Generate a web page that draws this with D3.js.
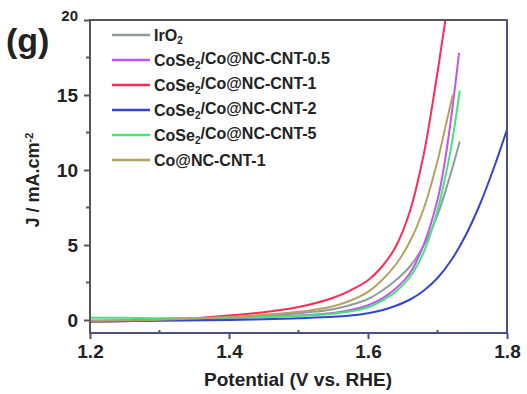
<!DOCTYPE html>
<html>
<head>
<meta charset="utf-8">
<script src="https://cdn.jsdelivr.net/npm/d3@7"></script>
<style>
  html, body { margin: 0; padding: 0; background: #fff; }
  svg { display: block; }
  text { font-family: "Liberation Sans", Arial, sans-serif; font-weight: bold; fill: #222; }
</style>
</head>
<body>
<svg id="chart" width="527" height="394"></svg>
<script>
// LSV polarization curves: [potential (V vs. RHE), current density (mA/cm2)]
const seriesNames = [
  "IrO2",
  "CoSe2/Co@NC-CNT-0.5",
  "CoSe2/Co@NC-CNT-1",
  "CoSe2/Co@NC-CNT-2",
  "CoSe2/Co@NC-CNT-5",
  "Co@NC-CNT-1"
];
const seriesColors = ["#8e9c9c", "#c054ee", "#ff2a55", "#3444d2", "#44e476", "#b4a264"];

const irO2 = [[1.20,-0.05],[1.30,0.00],[1.40,0.15],[1.45,0.30],[1.50,0.45],[1.525,0.56],[1.55,0.72],[1.575,1.00],[1.60,1.40],[1.62,1.95],[1.64,2.65],[1.66,3.55],[1.68,4.95],[1.70,7.00],[1.718,9.60],[1.732,11.90]];
const cnt05 = [[1.20,-0.05],[1.30,0.00],[1.40,0.10],[1.45,0.20],[1.50,0.30],[1.525,0.37],[1.55,0.47],[1.575,0.66],[1.60,0.98],[1.62,1.42],[1.64,2.10],[1.66,3.10],[1.68,5.00],[1.70,8.00],[1.71,10.40],[1.72,13.60],[1.731,17.80]];
const cnt1  = [[1.20,-0.10],[1.25,-0.08],[1.30,0.00],[1.35,0.12],[1.40,0.30],[1.45,0.52],[1.50,0.87],[1.525,1.13],[1.55,1.48],[1.575,1.98],[1.60,2.65],[1.62,3.55],[1.64,4.90],[1.66,7.20],[1.68,11.00],[1.69,13.60],[1.70,16.50],[1.712,20.20],[1.716,21.40]];
const cnt2  = [[1.20,-0.10],[1.30,-0.05],[1.40,0.00],[1.45,0.05],[1.50,0.12],[1.55,0.21],[1.575,0.30],[1.60,0.45],[1.62,0.65],[1.64,0.95],[1.66,1.35],[1.68,1.95],[1.70,2.80],[1.72,4.00],[1.74,5.60],[1.76,7.60],[1.78,10.00],[1.80,12.70]];
const cnt5  = [[1.20,0.15],[1.25,0.15],[1.30,0.12],[1.40,0.15],[1.45,0.20],[1.50,0.28],[1.525,0.33],[1.55,0.42],[1.575,0.58],[1.60,0.85],[1.62,1.28],[1.64,1.88],[1.66,2.85],[1.68,4.50],[1.70,7.30],[1.71,9.30],[1.72,11.60],[1.732,15.30]];
const coCnt1 = [[1.20,-0.05],[1.30,0.02],[1.40,0.20],[1.45,0.35],[1.50,0.55],[1.525,0.70],[1.55,0.92],[1.575,1.30],[1.60,1.88],[1.62,2.65],[1.64,3.70],[1.66,5.20],[1.68,7.40],[1.70,10.60],[1.712,13.00],[1.722,15.00]];
const seriesData = [irO2, cnt05, cnt1, cnt2, cnt5, coCnt1];

const xTicks = [1.2, 1.4, 1.6, 1.8];
const xMinorTicks = [1.3, 1.5, 1.7];
const yTicks = [0, 5, 10, 15, 20];
const yMinorTicks = [2.5, 7.5, 12.5, 17.5];

const svg = d3.select("#chart");
const plot = { left: 90, right: 507, top: 20, bottom: 333 };

const x = d3.scaleLinear().domain([1.2, 1.8]).range([plot.left, plot.right]);
const y = d3.scaleLinear().domain([0, 20]).range([320, 20]);

// clip region for the curves
svg.append("defs").append("clipPath").attr("id", "plotClip")
  .append("rect")
  .attr("x", plot.left).attr("y", plot.top)
  .attr("width", plot.right - plot.left).attr("height", plot.bottom - plot.top);

// curves
const line = d3.line()
  .x(d => x(d[0]))
  .y(d => y(d[1]))
  .curve(d3.curveCatmullRom.alpha(0.5));

const curves = svg.append("g").attr("clip-path", "url(#plotClip)");
seriesData.forEach((data, i) => {
  curves.append("path")
    .datum(data)
    .attr("d", line)
    .attr("fill", "none")
    .attr("stroke", seriesColors[i])
    .attr("stroke-width", 2);
});

// frame
const frameTop = "#55565c", frameSide = "#4a4f86";
svg.append("line").attr("x1", plot.left).attr("x2", plot.right + 1).attr("y1", plot.top).attr("y2", plot.top)
  .attr("stroke", frameTop).attr("stroke-width", 2);
svg.append("line").attr("x1", plot.right).attr("x2", plot.right).attr("y1", plot.top).attr("y2", plot.bottom)
  .attr("stroke", frameSide).attr("stroke-width", 2);

// bottom axis
const xAxis = d3.axisBottom(x).tickValues(xTicks).tickFormat(d3.format(".1f")).tickSize(6).tickPadding(6);
const gx = svg.append("g").attr("transform", `translate(0,${plot.bottom})`).call(xAxis);
gx.select(".domain").attr("stroke", frameSide).attr("stroke-width", 2).attr("d", `M${plot.left - 1},0H${plot.right + 1}`);
gx.selectAll(".tick line").attr("stroke", frameSide).attr("stroke-width", 2);
gx.selectAll(".tick text").style("font-size", "19px").style("font-family", "Liberation Sans, Arial, sans-serif").style("font-weight", "bold").attr("fill", "#222");
gx.selectAll(".minor").data(xMinorTicks).enter().append("line")
  .attr("x1", d => x(d)).attr("x2", d => x(d)).attr("y1", 0).attr("y2", -3)
  .attr("stroke", frameSide).attr("stroke-width", 2);

// left axis
const yAxis = d3.axisLeft(y).tickValues(yTicks).tickSize(6).tickPadding(6);
const gy = svg.append("g").attr("transform", `translate(${plot.left},0)`).call(yAxis);
gy.select(".domain").attr("stroke", frameTop).attr("stroke-width", 2).attr("d", `M0,${plot.top - 1}V${plot.bottom + 1}`);
gy.selectAll(".tick line").attr("stroke", frameTop).attr("stroke-width", 2);
gy.selectAll(".tick text").style("font-size", "19px").style("font-family", "Liberation Sans, Arial, sans-serif").style("font-weight", "bold").attr("fill", "#222");
gy.selectAll(".tick").filter(d => d === 20).select("text").style("font-size", "15px").attr("dy", "0.05em");
gy.selectAll(".minor").data(yMinorTicks).enter().append("line")
  .attr("x1", 0).attr("x2", -4).attr("y1", d => y(d)).attr("y2", d => y(d))
  .attr("stroke", frameTop).attr("stroke-width", 2);

// axis titles
svg.append("text")
  .attr("x", 298).attr("y", 386)
  .attr("text-anchor", "middle")
  .style("font-size", "19px")
  .text("Potential (V vs. RHE)");

const yTitle = svg.append("text")
  .attr("transform", "translate(39,180) rotate(-90)")
  .attr("text-anchor", "middle")
  .style("font-size", "18px");
yTitle.append("tspan").text("J / mA.cm");
yTitle.append("tspan").attr("dy", "-0.55em").style("font-size", "11px").text("-2");

// panel label
svg.append("text")
  .attr("x", 6).attr("y", 52)
  .style("font-size", "34px")
  .text("(g)");

// legend
const legend = svg.append("g");
seriesNames.forEach((name, i) => {
  const ly = 35 + i * 25;
  legend.append("line")
    .attr("x1", 112).attr("x2", 150).attr("y1", ly).attr("y2", ly)
    .attr("stroke", seriesColors[i]).attr("stroke-width", 2.5);
  const t = legend.append("text")
    .attr("x", 154).attr("y", ly + 5.5)
    .style("font-size", "16px");
  // chemical subscript for the "2" in IrO2 / CoSe2
  const m = name.match(/^(IrO|CoSe)2(.*)$/);
  if (m) {
    t.append("tspan").text(m[1]);
    t.append("tspan").attr("dy", "0.3em").style("font-size", "10px").text("2");
    t.append("tspan").attr("dy", "-0.3em").text(m[2]);
  } else {
    t.text(name);
  }
});
</script>
</body>
</html>
